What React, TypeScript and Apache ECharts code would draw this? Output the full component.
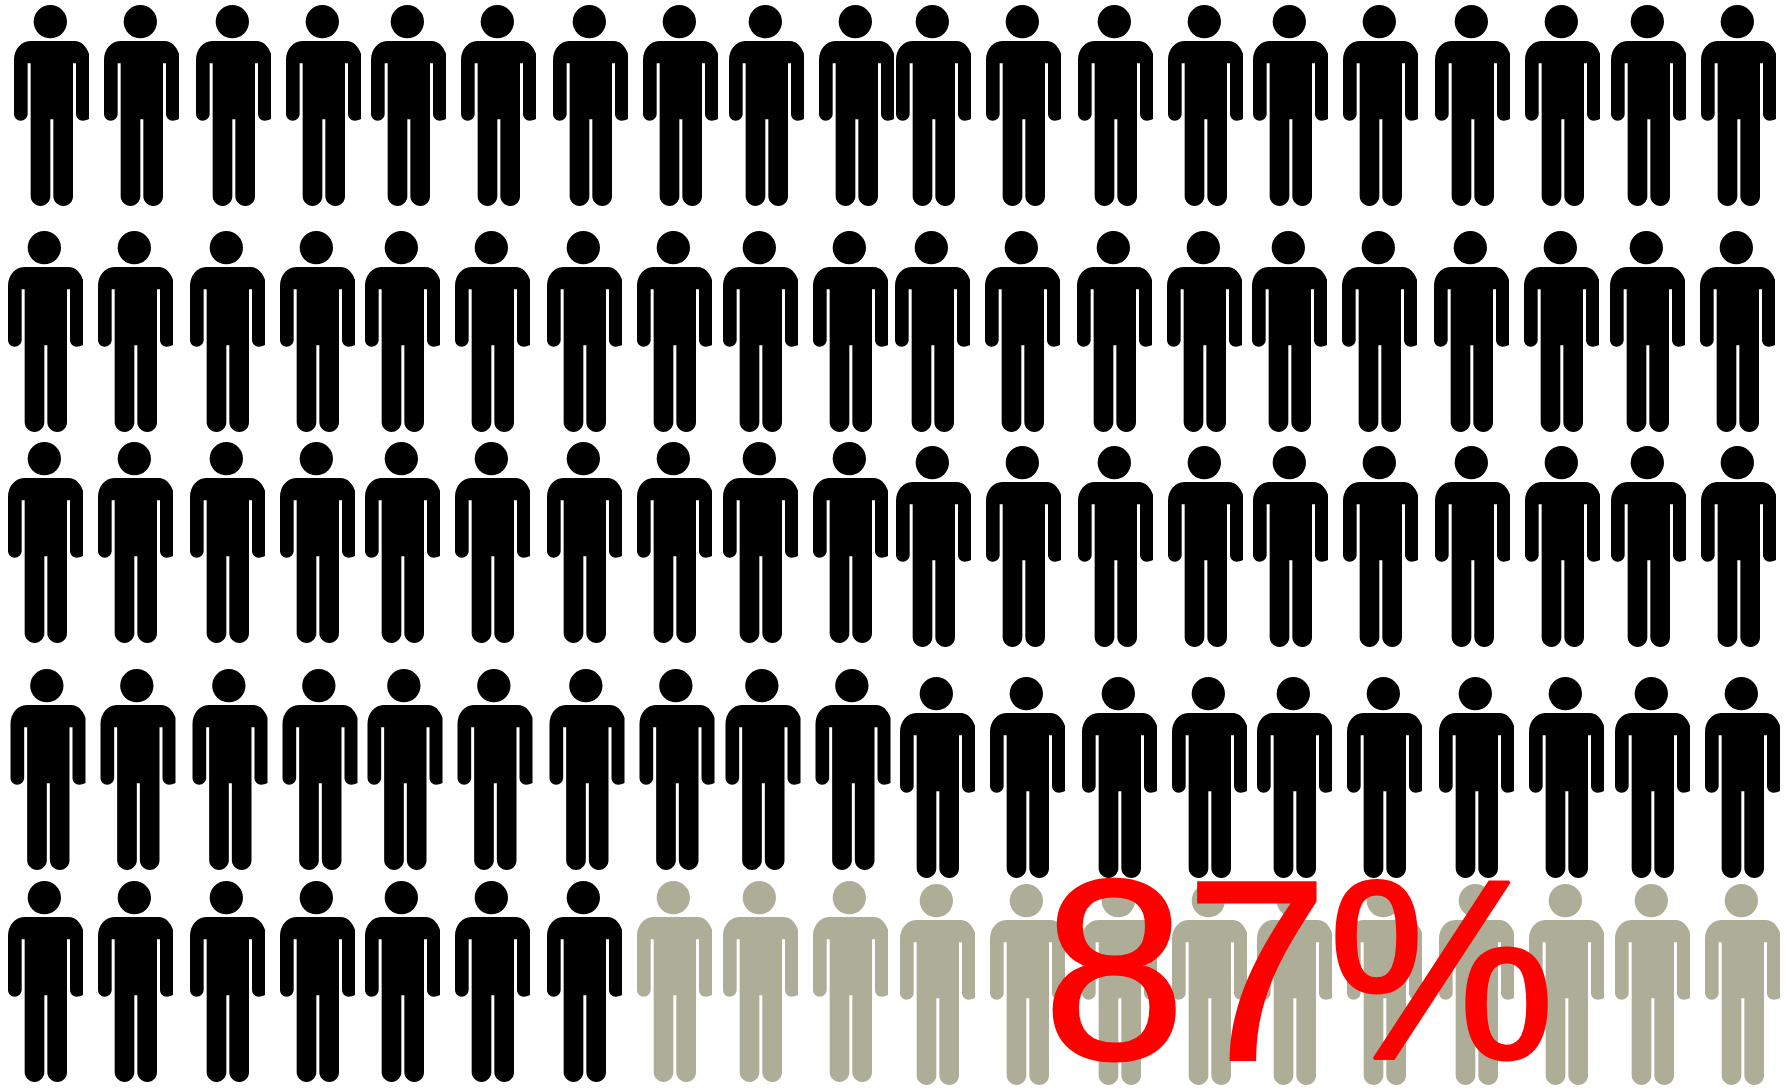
import { useEffect, useRef } from "react";
import * as echarts from "echarts";

// Seat layout: ten figures per block, two blocks per row, five rows.
const columnOffsets = [0, 90, 182, 272, 357, 447, 539, 629, 715, 805];
const leftBlockX = [14, 8, 8, 10.5, 8];
const rightBlockX = [896, 895, 896, 900, 900];
const leftBlockY = [5, 231, 442, 669, 881];
const rightBlockY = [5, 231, 446, 677, 884];
const affectedCount = 87;
const headline = "87%";

const FIGURE_W = 75;
const FIGURE_H = 201;
const WIDTH = 1787;
const HEIGHT = 1091;

// Standing person, head set slightly left of the body axis; right arm trimmed flat.
const PERSON =
  "path://M109 0A50 50 0 1 1 109 100A50 50 0 1 1 109 0Z" +
  "M48 108L182 108C202 108 217 124 225 146L225 342C218 346 212 347 206 347C195 347 186 338 186 327" +
  "L186 175L177 175L177 574C177 590 165 603 148 603C132 603 118 590 118 574L118 343L109 343L109 574" +
  "C109 590 95 603 80 603C64 603 50 590 50 574L50 175L41 175L41 327C41 338 31 347 20 347" +
  "C9 347 0 338 0 327L0 165C0 133 22 108 48 108Z";

function seats(): number[][] {
  const out: number[][] = [];
  leftBlockY.forEach((_, row) => {
    [[leftBlockX, leftBlockY], [rightBlockX, rightBlockY]].forEach(([xs, ys]) => {
      columnOffsets.forEach((dx) => {
        out.push([xs[row] + dx + FIGURE_W / 2, ys[row] + FIGURE_H / 2]);
      });
    });
  });
  return out;
}

export default function App() {
  const ref = useRef<HTMLDivElement>(null);

  useEffect(() => {
    const chart = echarts.init(ref.current!, undefined, { renderer: "svg" });
    const all = seats();
    const personSeries = (name: string, data: number[][], color: string) => ({
      name,
      type: "scatter",
      data,
      symbol: PERSON,
      symbolSize: [FIGURE_W, FIGURE_H],
      itemStyle: { color, opacity: 1 },
      silent: true,
      clip: false,
    });
    chart.setOption({
      animation: false,
      backgroundColor: "#ffffff",
      grid: { left: 0, right: 0, top: 0, bottom: 0 },
      xAxis: { type: "value", min: 0, max: WIDTH, show: false },
      yAxis: { type: "value", min: 0, max: HEIGHT, inverse: true, show: false },
      series: [
        personSeries("affected", all.slice(0, affectedCount), "#000000"),
        personSeries("others", all.slice(affectedCount), "#AEAD98"),
      ],
      graphic: [
        {
          type: "text",
          x: 1043,
          y: 1098,
          z: 100,
          style: {
            text: headline,
            fontFamily: "Liberation Sans",
            fontSize: 256,
            fill: "#FF0000",
            stroke: "#FF0000",
            lineWidth: 3,
            textAlign: "left",
            textVerticalAlign: "bottom",
          },
        },
      ],
    });
    return () => chart.dispose();
  }, []);

  return (
    <div
      ref={ref}
      style={{ position: "absolute", left: 0, top: 0, width: WIDTH, height: HEIGHT }}
    />
  );
}
